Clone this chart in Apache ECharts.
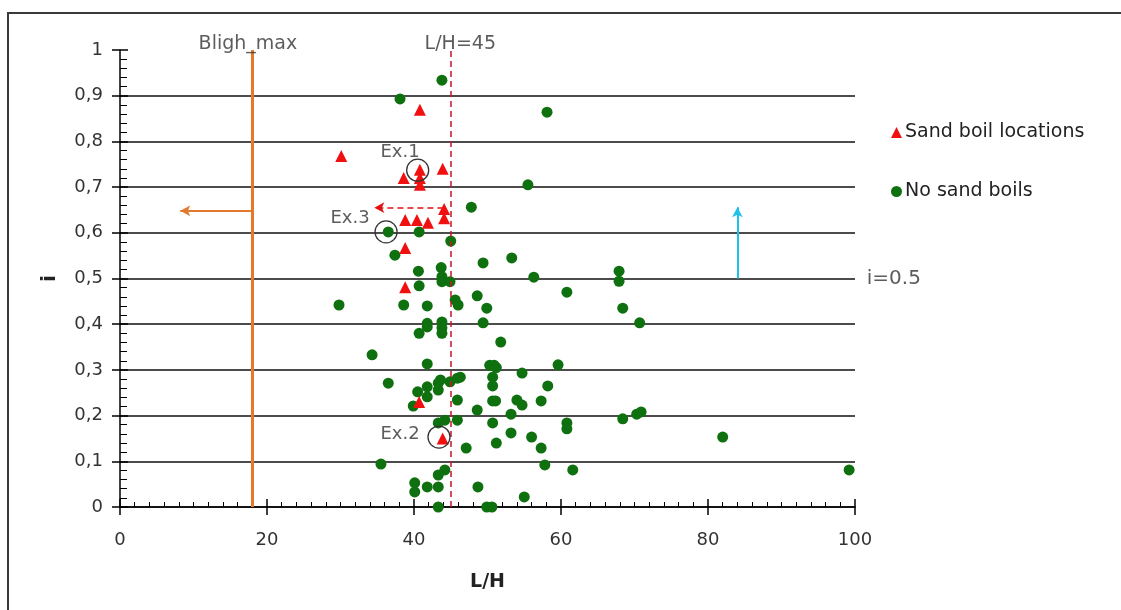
<!DOCTYPE html>
<html><head><meta charset="utf-8">
<script src="https://cdn.jsdelivr.net/npm/echarts@6/dist/echarts.min.js"></script>
<style>html,body{margin:0;padding:0;background:#fff}#c{width:1121px;height:610px}</style>
</head><body><div id="c"></div>
<script>
const sandBoil = [[30.1,0.768],[40.8,0.869],[40.8,0.738],[43.9,0.740],[38.6,0.720],[40.8,0.720],[40.8,0.705],[44.1,0.652],[44.1,0.632],[38.8,0.628],[40.4,0.628],[41.9,0.622],[38.8,0.567],[38.8,0.481],[40.7,0.230],[43.9,0.150]];
const noBoil = [[43.8,0.934],[38.1,0.893],[58.1,0.864],[55.5,0.705],[47.8,0.656],[36.5,0.602],[40.7,0.602],[45.0,0.582],[37.4,0.551],[53.3,0.545],[49.4,0.534],[43.7,0.524],[40.6,0.516],[43.8,0.504],[56.3,0.503],[67.9,0.516],[67.9,0.494],[43.8,0.493],[44.9,0.493],[40.7,0.484],
[45.6,0.453],[46.0,0.442],[29.8,0.442],[38.6,0.442],[41.8,0.440],[48.6,0.462],[60.8,0.470],[49.9,0.435],[68.4,0.435],[41.8,0.402],[43.8,0.405],[43.8,0.392],[41.8,0.394],[49.4,0.403],[70.7,0.403],[40.7,0.380],[43.8,0.380],[51.8,0.361],[34.3,0.333],[41.8,0.313],[50.3,0.310],[50.9,0.310],[51.2,0.305],[59.6,0.311],[54.7,0.293],[50.7,0.284],[46.3,0.284],[50.7,0.265],[58.2,0.265],[36.5,0.271],[40.5,0.252],[41.8,0.263],[43.3,0.271],[43.3,0.256],[43.6,0.278],[44.9,0.274],[45.9,0.282],[41.8,0.241],[39.9,0.221],[45.9,0.234],[48.6,0.212],[50.7,0.232],[51.1,0.232],[54.0,0.234],[54.7,0.223],[57.3,0.232],[53.2,0.203],[50.7,0.184],[60.8,0.184],[60.8,0.171],[68.4,0.193],[70.3,0.203],[70.9,0.208],[53.2,0.162],[56.0,0.153],[51.2,0.140],[57.3,0.129],[47.1,0.129],[57.8,0.092],[61.6,0.081],[48.7,0.044],[55.0,0.022],[49.9,0.0],[50.6,0.0],[82.0,0.153],[99.2,0.081],[43.3,0.184],[44.2,0.190],[45.9,0.190],[35.5,0.094],[43.3,0.070],[44.2,0.081],[40.1,0.053],[40.1,0.033],[41.8,0.044],[43.3,0.044],[43.3,0.0]];
const exCircles = [[40.5,0.737],[36.2,0.602],[43.4,0.153]];
const exLabels = [[38.1,0.775,'Ex.1'],[31.3,0.632,'Ex.3'],[38.1,0.158,'Ex.2']];
const blighX = 18, lhLimit = 45, iLimit = 0.5;
const yTicks = ['0','0,1','0,2','0,3','0,4','0,5','0,6','0,7','0,8','0,9','1'];

const FONT = 'DejaVu Sans';
const chart = echarts.init(document.getElementById('c'), null, {renderer:'canvas'});
const gridColors = ['#111','#111','#111','#111','#111','#111','#111','#111','#111','#111','rgba(0,0,0,0)'];
const xBase = {type:'value',min:0,max:100,interval:20,position:'bottom'};
const yBase = {type:'value',min:0,max:1,interval:0.1,position:'left'};
chart.setOption({
  animation:false,
  backgroundColor:'#fff',
  textStyle:{fontFamily:FONT},
  graphic:[{type:'rect',shape:{x:8,y:13,width:1125,height:610},style:{fill:'none',stroke:'#3a3a3a',lineWidth:2},silent:true}],
  grid:{left:120,right:266,top:50,bottom:103,containLabel:false},
  legend:{
    orient:'vertical',left:886,top:118,itemGap:40,itemWidth:11,itemHeight:11,
    textStyle:{fontFamily:FONT,fontSize:19,color:'#222',padding:[0,0,0,-2]},
    data:[{name:'Sand boil locations',icon:'triangle',itemStyle:{color:'#f01010'}},{name:'No sand boils',icon:'circle',itemStyle:{color:'#0f700f'}}]
  },
  xAxis:[Object.assign({},xBase,{
    name:'L/H',nameLocation:'middle',nameGap:66,
    nameTextStyle:{fontFamily:FONT,fontSize:19,fontWeight:'bold',color:'#222'},
    axisLine:{show:true,onZero:false,lineStyle:{color:'#000',width:1.5}},
    axisTick:{show:true,inside:false,length:8,lineStyle:{color:'#000',width:1.5}},
    minorTick:{show:false},
    axisLabel:{margin:24,fontFamily:FONT,fontSize:18,color:'#333',formatter:v=>String(v)},
    splitLine:{show:false}
  }),Object.assign({},xBase,{
    axisLine:{show:false},
    axisTick:{show:true,inside:true,length:8,lineStyle:{color:'#000',width:1.5}},
    minorTick:{show:true,splitNumber:10,length:5,lineStyle:{color:'#000',width:1}},
    axisLabel:{show:false},splitLine:{show:false}
  })],
  yAxis:[Object.assign({},yBase,{
    name:'i',nameLocation:'middle',nameGap:60,nameRotate:90,
    nameTextStyle:{fontFamily:FONT,fontSize:20,fontWeight:'bold',color:'#222'},
    axisLine:{show:true,onZero:false,lineStyle:{color:'#000',width:1.5}},
    axisTick:{show:true,inside:false,length:8,lineStyle:{color:'#000',width:1.5}},
    minorTick:{show:false},
    axisLabel:{margin:17,fontFamily:FONT,fontSize:18,color:'#333',formatter:(v)=>yTicks[Math.round(v*10)]},
    splitLine:{show:true,lineStyle:{color:gridColors,width:1.6}}
  }),Object.assign({},yBase,{
    axisLine:{show:false},
    axisTick:{show:true,inside:true,length:8,lineStyle:{color:'#000',width:1.5}},
    minorTick:{show:true,splitNumber:5,length:7,lineStyle:{color:'#000',width:1}},
    axisLabel:{show:false},splitLine:{show:false}
  })],
  series:[
    {
      name:'Sand boil locations',type:'scatter',symbol:'triangle',symbolSize:12,z:5,
      itemStyle:{color:'#f01010',opacity:1},data:sandBoil,
      markLine:{
        silent:true,symbol:['none','none'],animation:false,label:{show:false},
        data:[
          [{coord:[blighX,0],lineStyle:{color:'#e2792c',width:3,type:'solid'}},{coord:[blighX,1]}],
          [{coord:[blighX,0.648],symbol:'none',lineStyle:{color:'#e2792c',width:2,type:'solid'}},{coord:[8.2,0.648],symbol:'arrow',symbolSize:[8,10]}],
          [{coord:[lhLimit,0],lineStyle:{color:'#c4162a',width:1.5,type:[6,4]}},{coord:[lhLimit,1]}],
          [{coord:[44.0,0.655],symbol:'none',lineStyle:{color:'#e01010',width:1.5,type:[6,4]}},{coord:[34.6,0.655],symbol:'arrow',symbolSize:[8,10]}],
          [{coord:[0,iLimit],lineStyle:{color:'#1ec0ec',width:3,type:'solid'}},{coord:[100.5,iLimit]}],
          [{coord:[84,iLimit],symbol:'none',lineStyle:{color:'#1ec0ec',width:2,type:'solid'}},{coord:[84,0.656],symbol:'arrow',symbolSize:[8,10]}]
        ]
      }
    },
    {
      name:'No sand boils',type:'scatter',symbol:'circle',symbolSize:11,z:4,
      itemStyle:{color:'#0f700f',opacity:1},data:noBoil
    },
    {
      name:'ex',type:'scatter',symbol:'circle',symbolSize:22,z:6,silent:true,
      itemStyle:{color:'rgba(0,0,0,0)',borderColor:'#333',borderWidth:1.3,opacity:1},data:exCircles
    },
    {
      name:'labels',type:'scatter',symbolSize:0,clip:false,silent:true,z:7,
      data:exLabels.map(d=>({value:[d[0],d[1]],label:{formatter:d[2]}}))
        .concat([
          {value:[17.4,1.013],label:{formatter:'Bligh_max',fontSize:19}},
          {value:[46.3,1.013],label:{formatter:'L/H=45',fontSize:19}},
          {value:[101.6,iLimit],label:{formatter:'i=0.5',align:'left',fontSize:20}}
        ]),
      label:{show:true,position:'inside',fontFamily:FONT,fontSize:18,color:'#333'}
    }
  ]
});
</script></body></html>
